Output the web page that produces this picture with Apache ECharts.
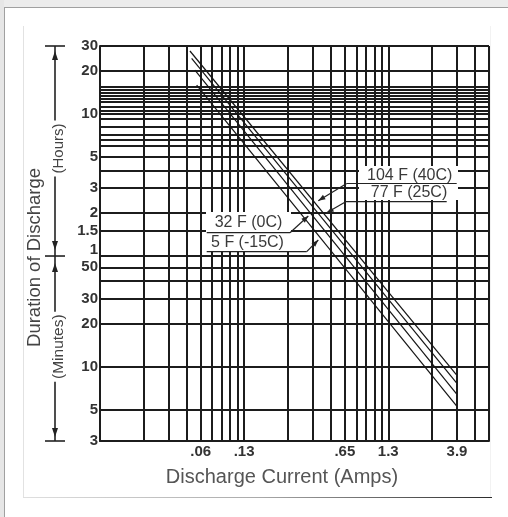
<!DOCTYPE html>
<html><head><meta charset="utf-8">
<script src="https://cdn.jsdelivr.net/npm/echarts@6/dist/echarts.min.js"></script>
<style>html,body{margin:0;padding:0;background:#fff;}#c{width:508px;height:517px;}</style>
</head><body><div id="c"></div>
<script>
// ---- data ----
const seriesNames = ['104 F (40C)', '77 F (25C)', '32 F (0C)', '5 F (-15C)'];
const currentStart = [0.0547, 0.0562, 0.0592, 0.0609];   // Amps
const minutesStart = [1660, 1475, 1220, 957];            // minutes
const currentEnd   = [3.87, 3.87, 3.87, 3.87];
const minutesEnd   = [8.74, 7.68, 6.43, 5.29];

const xTickValues = [0.065, 0.13, 0.65, 1.3, 3.9];
const xTickLabels = ['.06', '.13', '.65', '1.3', '3.9'];
const xGridValues = [0.026, 0.039, 0.052, 0.065, 0.078, 0.091, 0.104, 0.117, 0.13,
                     0.26, 0.39, 0.52, 0.65, 0.78, 0.91, 1.04, 1.17, 1.3,
                     2.6, 3.9, 5.2, 6.5];
const yTickValues = [1800, 1200, 600, 300, 180, 120, 90, 60, 50, 30, 20, 10, 5, 3];
const yTickLabels = ['30', '20', '10', '5', '3', '2', '1.5', '1', '50', '30', '20', '10', '5', '3'];
const yGridValues = [1800, 1200, 925, 881, 846, 807, 769, 727, 676, 634, 600, 557, 483, 430, 396, 355,
                     300, 240, 180, 120, 90, 60, 50, 40, 30, 20, 10, 5, 3];

function labelFor(values, labels, v) {
  let best = 0, bd = Infinity;
  values.forEach((t, i) => { const d = Math.abs(Math.log(t / v)); if (d < bd) { bd = d; best = i; } });
  return labels[best];
}

const FONT = 'Liberation Sans, Arial, sans-serif';
const gridStyle = { color: '#1c1c1c', width: 2 };
const chart = echarts.init(document.getElementById('c'), null, { renderer: 'canvas' });

chart.setOption({
  animation: false,
  backgroundColor: '#fff',
  grid: { left: 100, top: 46, width: 389, height: 395 },
  xAxis: {
    type: 'log', logBase: 10, min: 0.013, max: 6.5,
    axisLine: { show: true, lineStyle: { color: '#1c1c1c', width: 2 } },
    axisTick: { show: false, customValues: xGridValues },
    splitLine: { show: true, lineStyle: gridStyle },
    minorTick: { show: false }, minorSplitLine: { show: false },
    axisLabel: {
      customValues: xTickValues,
      formatter: v => labelFor(xTickValues, xTickLabels, v),
      margin: 3, color: '#333', fontWeight: 'bold', fontSize: 15, fontFamily: FONT
    }
  },
  yAxis: {
    type: 'log', logBase: 10, min: 3, max: 1800,
    axisLine: { show: true, lineStyle: { color: '#1c1c1c', width: 2 } },
    axisTick: { show: false, customValues: yGridValues },
    splitLine: { show: true, lineStyle: gridStyle },
    minorTick: { show: false }, minorSplitLine: { show: false },
    axisLabel: {
      customValues: yTickValues,
      formatter: v => {
        const s = labelFor(yTickValues, yTickLabels, v);
        return Math.abs(v - 60) < 0.01 ? '{up|' + s + '}' : s;
      },
      rich: { up: { padding: [0, 0, 12, 0], color: '#333', fontWeight: 'bold', fontSize: 15, fontFamily: FONT } },
      margin: 2, color: '#333', fontWeight: 'bold', fontSize: 15, fontFamily: FONT
    }
  },
  series: seriesNames.map((n, i) => ({
    name: n, type: 'line', silent: true, symbol: 'none', z: 3,
    data: [[currentStart[i], minutesStart[i]], [currentEnd[i], minutesEnd[i]]],
    lineStyle: { color: '#151515', width: 1.2 }
  }))
});

// ---- annotations ----
const py = v => chart.convertToPixel({ yAxisIndex: 0 }, v);
const yTop = py(1800), yMid = py(60), yBot = py(3);
const ink = '#222';
const g = [];
function line(x1, y1, x2, y2, w, c) {
  g.push({ type: 'line', z: 20, silent: true, shape: { x1, y1, x2, y2 }, style: { stroke: c || ink, lineWidth: w || 1.2 } });
}
function arrowTo(x1, y1, x2, y2, len, hw) {
  len = len || 7; hw = hw || 2.6;
  const dx = x2 - x1, dy = y2 - y1, L = Math.hypot(dx, dy), ux = dx / L, uy = dy / L;
  const bx = x2 - ux * len, by = y2 - uy * len;
  g.push({ type: 'polygon', z: 21, silent: true,
    shape: { points: [[x2, y2], [bx - uy * hw, by + ux * hw], [bx + uy * hw, by - ux * hw]] },
    style: { fill: ink } });
}
function text(t, x, y, size, color, rot, weight) {
  g.push({ type: 'text', z: 22, silent: true, x, y, rotation: rot || 0,
    style: { text: t, x: 0, y: 0, align: 'center', verticalAlign: 'middle',
      font: (weight || 'normal') + ' ' + size + 'px ' + FONT, fill: color || '#3a3a3a' } });
}
function rect(x, y, w, h, fill, z) {
  g.push({ type: 'rect', z: z === undefined ? 15 : z, silent: true, shape: { x, y, width: w, height: h }, style: { fill } });
}

// page frame
rect(0, 0, 508, 7, '#ececec', 0);
rect(0, 0, 4, 517, '#e6e6e6', 0);
line(4, 7.5, 508, 7.5, 1, '#a0a0a0');
line(4.5, 7, 4.5, 517, 1, '#a0a0a0');
line(23.5, 26, 23.5, 497, 1, '#e2e2e2');
line(490.5, 26, 490.5, 497, 1, '#f2f2f2');
g.push({ type: 'line', z: 1, silent: true, shape: { x1: 23, y1: 497.5, x2: 492, y2: 497.5 },
  style: { lineWidth: 1.2, stroke: new echarts.graphic.LinearGradient(0, 0, 1, 0, [
    { offset: 0, color: '#e0e0e0' }, { offset: 0.5, color: '#aaaaaa' }, { offset: 1, color: '#2a2a2a' }]) } });

// callout boxes
rect(359, 166, 99, 34, '#fff');
rect(206, 212, 85, 39, '#fff');
const calloutText = [[409.7, 176], [409, 192.5], [248.5, 223], [247.5, 243]];
seriesNames.forEach((n, i) => text(n, calloutText[i][0], calloutText[i][1], 16, '#3a3a3a'));
line(346.7, 183.5, 456.7, 183.5);
line(345.7, 201.7, 446.7, 201.7);
line(206.7, 232.7, 290, 232.7);
line(206.7, 251.7, 306.7, 251.7);
line(346.7, 183.5, 318.3, 200.7); arrowTo(346.7, 183.5, 318.3, 200.7);
line(345.7, 201.7, 326.7, 212.7); arrowTo(345.7, 201.7, 326.7, 212.7);
line(290, 232.7, 308.3, 216);     arrowTo(290, 232.7, 308.3, 216);
line(306.7, 251.7, 318.3, 240);   arrowTo(306.7, 251.7, 318.3, 240);

// dimension marks on the left
const dx = 55;
[yTop, yMid, yBot].forEach(y => line(45, y, 65, y, 1.6));
const hC = 148.5, mC = 346.7;
line(dx, yTop, dx, hC - 28, 1.6); line(dx, hC + 28, dx, yMid, 1.6);
line(dx, yMid, dx, mC - 35, 1.6); line(dx, mC + 35, dx, yBot, 1.6);
arrowTo(dx, yTop + 14, dx, yTop + 5, 9, 3);
arrowTo(dx, yMid - 15, dx, yMid - 6, 9, 3);
arrowTo(dx, yMid + 16, dx, yMid + 7, 9, 3);
arrowTo(dx, yBot - 13, dx, yBot - 4, 9, 3);
text('(Hours)', 59, hC, 15, '#444', Math.PI / 2);
text('(Minutes)', 59, mC, 15.5, '#444', Math.PI / 2);
text('Duration of Discharge', 35, 257.5, 18.5, '#444', Math.PI / 2);
text('Discharge Current (Amps)', 282, 477, 20, '#555');

chart.setOption({ graphic: g });
</script></body></html>
